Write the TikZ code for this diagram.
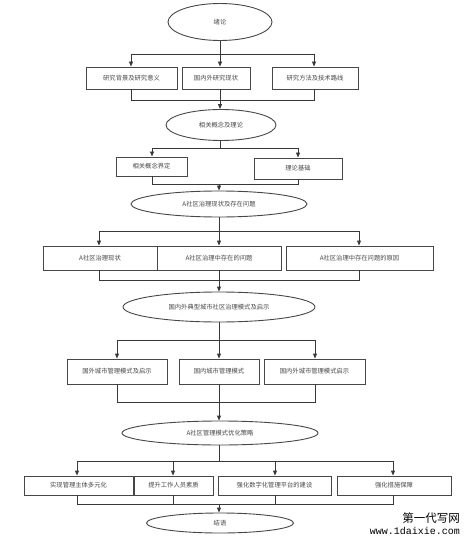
\documentclass[tikz,border=0pt]{standalone}
\usepackage{fontspec}
\newfontfamily\cjk{Noto Sans CJK SC}
\newfontfamily\wmmono{Liberation Mono}
\usetikzlibrary{shapes.geometric,arrows.meta}
\begin{document}
\begin{tikzpicture}[x=1pt,y=-1pt,
  lbl/.style={font=\cjk\fontsize{6.3}{7}\selectfont, text=black!72},
  bx/.style={lbl, draw=black!72, line width=0.9pt, rectangle, inner sep=0pt, fill=white},
  el/.style={lbl, draw=black!72, line width=0.9pt, ellipse, inner sep=0pt, fill=white},
  ln/.style={draw=black!78, line width=0.9pt},
  arr/.style={ln, -{Triangle[length=5pt,width=4pt]}}]
\useasboundingbox (0,0) rectangle (470,545);
\fill[white] (0,0) rectangle (470,545);

% level 1
\node[el, minimum width=104pt, minimum height=37pt] (e1) at (220,22) {绪论};
\node[bx, minimum width=91pt, minimum height=22pt] (b1) at (131.5,78) {研究背景及研究意义};
\node[bx, minimum width=68pt, minimum height=22pt] (b2) at (216,78) {国内外研究现状};
\node[bx, minimum width=86pt, minimum height=22pt] (b3) at (315,78) {研究方法及技术路线};
\coordinate (j1) at (220,54); \coordinate (j1l) at (131,54); \coordinate (j1r) at (314,54);
\coordinate (k1) at (220,100); \coordinate (k1l) at (131,100); \coordinate (k1r) at (314,100);
\draw[ln] (e1) -- (j1);
\draw[ln] (j1l) -- (j1r);
\draw[arr] (j1l) -- (j1l |- b1.north);
\draw[arr] (j1) -- (j1 |- b2.north);
\draw[arr] (j1r) -- (j1r |- b3.north);
\draw[ln] (k1l |- b1.south) -- (k1l) -- (k1r) -- (k1r |- b3.south);
\draw[ln] (k1 |- b2.south) -- (k1);

% level 2
\node[el, minimum width=110pt, minimum height=31pt] (e2) at (221,125) {相关概念及理论};
\draw[arr] (k1) -- (k1 |- e2.north);
\node[bx, minimum width=71pt, minimum height=19pt] (b4) at (151.5,166.5) {相关概念界定};
\node[bx, minimum width=88pt, minimum height=21pt] (b5) at (298,168.5) {理论基础};
\coordinate (j2) at (220,148); \coordinate (j2l) at (152,148); \coordinate (j2r) at (298,148);
\coordinate (k2) at (219,184); \coordinate (k2l) at (152,184); \coordinate (k2r) at (298,184);
\draw[ln] (j2 |- e2.south) -- (j2);
\draw[ln] (j2l) -- (j2r);
\draw[arr] (j2l) -- (j2l |- b4.north);
\draw[arr] (j2r) -- (j2r |- b5.north);
\draw[ln] (k2l |- b4.south) -- (k2l) -- (k2r) -- (k2r |- b5.south);

% level 3
\node[el, minimum width=176pt, minimum height=26pt] (e3) at (219,204) {A社区治理现状及存在问题};
\draw[arr] (k2) -- (k2 |- e3.north);
\node[bx, minimum width=114pt, minimum height=24pt] (b6) at (100,258) {A社区治理现状};
\node[bx, minimum width=124pt, minimum height=24pt] (b7) at (219,258) {A社区治理中存在的问题};
\node[bx, minimum width=147pt, minimum height=24pt] (b8) at (359.5,258) {A社区治理中存在问题的原因};
\coordinate (j3) at (219,231); \coordinate (j3l) at (99,231); \coordinate (j3r) at (359,231);
\coordinate (k3) at (219,280); \coordinate (k3l) at (99,280); \coordinate (k3r) at (359,280);
\draw[ln] (e3) -- (j3);
\draw[ln] (j3l) -- (j3r);
\draw[arr] (j3l) -- (j3l |- b6.north);
\draw[arr] (j3) -- (j3 |- b7.north);
\draw[arr] (j3r) -- (j3r |- b8.north);
\draw[ln] (k3l |- b6.south) -- (k3l) -- (k3r) -- (k3r |- b8.south);
\draw[ln] (k3 |- b7.south) -- (k3);

% level 4
\node[el, minimum width=192pt, minimum height=30pt] (e4) at (219,307) {国内外典型城市社区治理模式及启示};
\draw[arr] (k3) -- (k3 |- e4.north);
\node[bx, minimum width=100pt, minimum height=25pt] (b9) at (117,371.5) {国外城市管理模式及启示};
\node[bx, minimum width=80pt, minimum height=25pt] (b10) at (219,371.5) {国内城市管理模式};
\node[bx, minimum width=101pt, minimum height=25pt] (b11) at (314.5,371.5) {国内外城市管理模式启示};
\coordinate (j4) at (219,340); \coordinate (j4l) at (117,340); \coordinate (j4r) at (315,340);
\coordinate (k4) at (219,402); \coordinate (k4l) at (117,402); \coordinate (k4r) at (315,402);
\draw[ln] (e4) -- (j4);
\draw[ln] (j4l) -- (j4r);
\draw[arr] (j4l) -- (j4l |- b9.north);
\draw[arr] (j4) -- (j4 |- b10.north);
\draw[arr] (j4r) -- (j4r |- b11.north);
\draw[ln] (k4l |- b9.south) -- (k4l) -- (k4r) -- (k4r |- b11.south);
\draw[ln] (k4 |- b10.south) -- (k4);

% level 5
\node[el, minimum width=196pt, minimum height=24pt] (e5) at (220,433) {A社区管理模式优化策略};
\draw[arr] (k4) -- (k4 |- e5.north);
\node[bx, minimum width=109pt, minimum height=19pt] (b12) at (78.5,485.5) {实现管理主体多元化};
\node[bx, minimum width=79pt, minimum height=19pt] (b13) at (173.5,485.5) {提升工作人员素质};
\node[bx, minimum width=113pt, minimum height=19pt] (b14) at (274.5,485.5) {强化数字化管理平台的建设};
\node[bx, minimum width=114pt, minimum height=19pt] (b15) at (394,485.5) {强化措施保障};
\coordinate (j5) at (219,461); \coordinate (j5a) at (77,461); \coordinate (j5b) at (173,461);
\coordinate (j5c) at (275,461); \coordinate (j5d) at (393,461);
\coordinate (k5) at (219,504); \coordinate (k5a) at (77,504); \coordinate (k5b) at (173,504);
\coordinate (k5c) at (275,504); \coordinate (k5d) at (393,504);
\draw[ln] (j5 |- e5.south) -- (j5);
\draw[ln] (j5a) -- (j5d);
\draw[arr] (j5a) -- (j5a |- b12.north);
\draw[arr] (j5b) -- (j5b |- b13.north);
\draw[arr] (j5c) -- (j5c |- b14.north);
\draw[arr] (j5d) -- (j5d |- b15.north);
\draw[ln] (k5a |- b12.south) -- (k5a) -- (k5d) -- (k5d |- b15.south);
\draw[ln] (k5b |- b13.south) -- (k5b);
\draw[ln] (k5c |- b14.south) -- (k5c);

% level 6
\node[el, minimum width=147pt, minimum height=20pt] (e6) at (220,523) {结语};
\draw[arr] (k5) -- (k5 |- e6.north);

% watermark
\node[anchor=east, inner sep=0pt, font=\cjk\fontsize{11.5}{12}\selectfont] (wm1) at (460,518) {第一代写网};
\node[anchor=east, inner sep=0pt, font=\wmmono\fontsize{10}{11}\selectfont] (wm2) at (460,531) {www.1daixie.com};
\end{tikzpicture}
\end{document}
